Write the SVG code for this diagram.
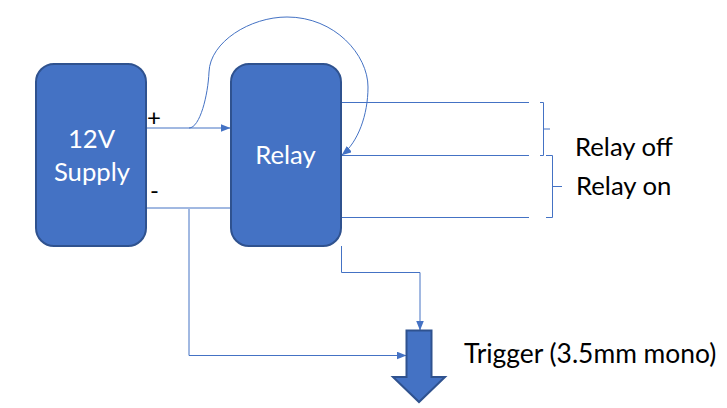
<svg xmlns="http://www.w3.org/2000/svg" width="727" height="408" viewBox="0 0 727 408">
<style>
text{font-family:"Lato","Open Sans",sans-serif}
.box{fill:#4472c4;stroke:#2f528f;stroke-width:2}
.w{fill:#fff;font-size:25.7px;text-anchor:middle}
.k{fill:#000;font-size:25.7px}
.c{fill:none;stroke:#4472c4;stroke-width:1}
</style>
<defs><marker id="a" markerUnits="userSpaceOnUse" markerWidth="10" markerHeight="9" refX="9.5" refY="4" orient="auto"><path d="M0 0L10 4L0 8Z" fill="#4472c4"/></marker></defs>
<rect width="727" height="408" fill="#fff"/>
<g id="connectors">
<path class="c" d="M146 128H230" marker-end="url(#a)"/>
<path class="c" d="M146 208H231"/>
<path class="c" d="M189 128C200 128 208 95 209 72C210 42 250 17 287 17C335 17 368 55 368 87C368 115 358 142 342 155" marker-end="url(#a)"/>
<path class="c" d="M342 102.500H529"/>
<path class="c" d="M342 155.500H529"/>
<path class="c" d="M342 217.500H529"/>
<path class="c" d="M341.500 246V272.500H420V330" marker-end="url(#a)"/>
<path class="c" d="M189 209V355.500H406" marker-end="url(#a)"/>
<path class="c" d="M540 102.500H543.500V155.500H540M543.500 129H550"/>
<path class="c" d="M546 155.500H552.500V217.500H546M552.500 186.500H562"/>
</g>
<g id="supply"><rect class="box" x="36" y="64" width="110" height="182" rx="18"/><text class="w" x="91.500" y="148">12V</text><text class="w" x="92" y="181">Supply</text></g>
<g id="relay"><rect class="box" x="231" y="64" width="110" height="182" rx="18"/><text class="w" x="285.500" y="164">Relay</text></g>
<g id="trigger"><path d="M406.500 330.500H431.500V377H445L419 402L393 377H406.500Z" fill="#4472c4" stroke="#2f528f" stroke-width="2"/></g>
<g id="labels">
<text class="k" x="147" y="126" style="font-size:24px">+</text>
<text class="k" x="150" y="199" style="font-size:24px">-</text>
<text class="k" x="575" y="156">Relay off</text>
<text class="k" x="576" y="195">Relay on</text>
<text class="k" x="464" y="363" style="font-size:26.4px">Trigger (3.5mm mono)</text>
</g>
</svg>
